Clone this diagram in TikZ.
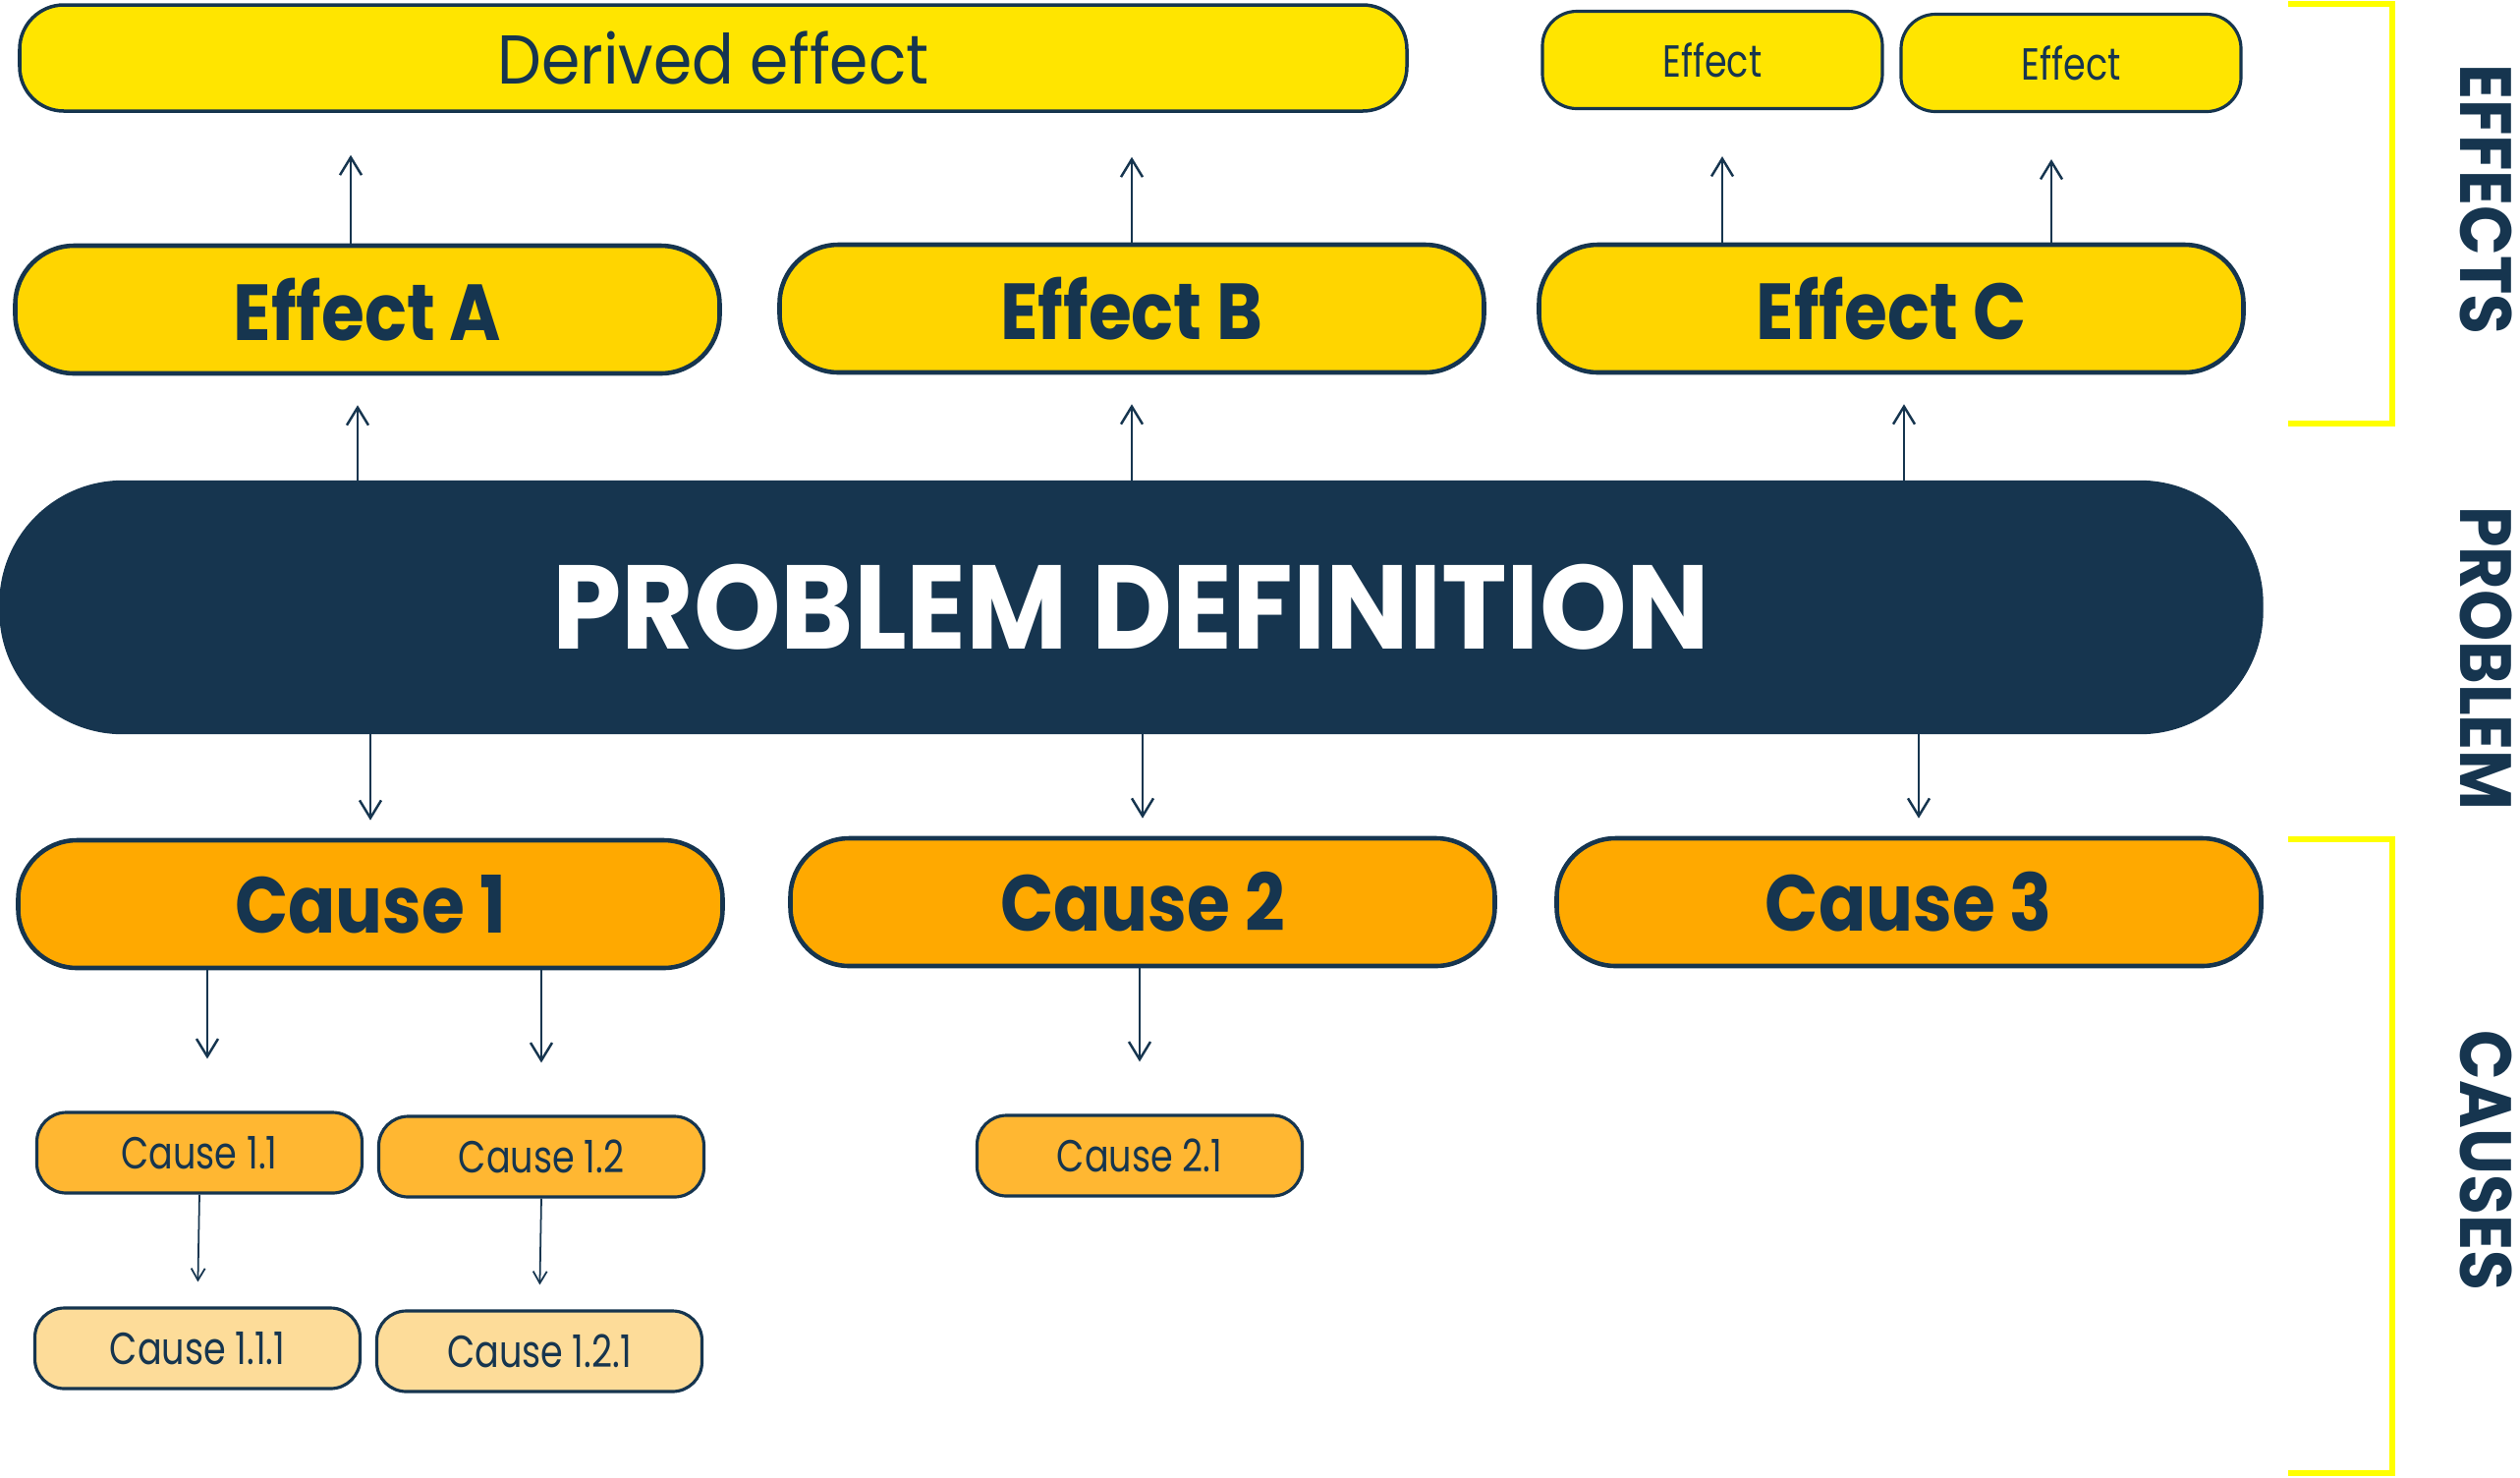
\documentclass[tikz,border=0pt]{standalone}
\usepackage{fontspec}
\setmainfont{Poppins}
\newfontfamily\bigfit{Poppins}[FakeStretch=0.88]
\newfontfamily\probfit{Poppins}[FakeStretch=0.93]
\newfontfamily\midfit{Poppins}[FakeStretch=0.9]
\newfontfamily\smallfit{Poppins}[FakeStretch=0.8]
\usetikzlibrary{arrows.meta}
\definecolor{navy}{HTML}{16354F}
\definecolor{yelA}{HTML}{FFE500}
\definecolor{yelB}{HTML}{FFD500}
\definecolor{orgA}{HTML}{FFA900}
\definecolor{orgB}{HTML}{FFB732}
\definecolor{orgC}{HTML}{FDDC99}
\definecolor{brk}{HTML}{FFFF00}
\begin{document}
\begin{tikzpicture}[
  box/.style={draw=navy, text=navy, inner sep=0pt, align=center},
  big/.style={box, line width=1.3pt, minimum width=7.17cm, minimum height=1.3cm, rounded corners=0.6cm, font=\bigfit\fontsize{23}{26}\selectfont\bfseries},
  small/.style={box, line width=0.9pt, minimum width=3.31cm, minimum height=0.82cm, rounded corners=0.3cm, font=\smallfit\fontsize{13}{16}\selectfont},
  link/.style={draw=navy, line width=0.7pt, -{Straight Barb[length=0.18cm, width=0.22cm]}},
  thin/.style={draw=navy, line width=0.5pt, -{Straight Barb[length=0.12cm, width=0.14cm]}},
  side/.style={text=navy, rotate=-90, font=\midfit\fontsize{21}{26}\selectfont\bfseries}
]
\useasboundingbox (0,0) rectangle (25.65,-15.03);

% effects
\node[box, fill=yelA, line width=1pt, minimum width=14.12cm, minimum height=1.08cm, rounded corners=0.45cm, font=\midfit\fontsize{20}{24}\selectfont] (d) at (7.26,-0.59) {Derived effect};
\node[small, fill=yelA, minimum width=3.46cm, minimum height=0.99cm, rounded corners=0.35cm] (e1) at (17.43,-0.61) {Effect};
\node[small, fill=yelA, minimum width=3.46cm, minimum height=0.99cm, rounded corners=0.35cm] (e2) at (21.08,-0.64) {Effect};
\node[big, fill=yelB] (A) at (3.74,-3.15) {Effect A};
\node[big, fill=yelB] (B) at (11.52,-3.14) {Effect B};
\node[big, fill=yelB] (C) at (19.25,-3.14) {Effect C};

% problem
\node[box, fill=navy, text=white, minimum width=23.03cm, minimum height=2.57cm, rounded corners=1.25cm, font=\probfit\fontsize{34.5}{40}\selectfont\bfseries] (p) at (11.515,-6.18) {PROBLEM DEFINITION};

% causes
\node[big, fill=orgA] (1) at (3.77,-9.20) {Cause 1};
\node[big, fill=orgA] (2) at (11.63,-9.18) {Cause 2};
\node[big, fill=orgA] (3) at (19.43,-9.18) {Cause 3};
\node[small, fill=orgB] (11) at (2.03,-11.73) {Cause 1.1};
\node[small, fill=orgB] (12) at (5.51,-11.77) {Cause 1.2};
\node[small, fill=orgB] (21) at (11.60,-11.76) {Cause 2.1};
\node[small, fill=orgC] (111) at (2.01,-13.72) {Cause 1.1.1};
\node[small, fill=orgC] (121) at (5.49,-13.75) {Cause 1.2.1};

\path[link, shorten >=0.43cm] ([xshift=-0.17cm]A.north) -- ([xshift=-0.17cm]A.north |- d.south);
\path[link, shorten >=0.45cm] (B.north) -- (B.north |- d.south);
\path[link, shorten >=0.47cm] ([xshift=0.1cm]e1.south |- C.north) -- ([xshift=0.1cm]e1.south);
\path[link, shorten >=0.47cm] ([xshift=-0.2cm]e2.south |- C.north) -- ([xshift=-0.2cm]e2.south);
\path[link, shorten >=0.3cm] ([xshift=-0.1cm]A.south |- p.north) -- ([xshift=-0.1cm]A.south);
\path[link, shorten >=0.3cm] (B.south |- p.north) -- (B.south);
\path[link, shorten >=0.3cm] ([xshift=0.13cm]C.south |- p.north) -- ([xshift=0.13cm]C.south);
\path[link, shorten >=0.18cm] (1.north |- p.south) -- (1.north);
\path[link, shorten >=0.18cm] (2.north |- p.south) -- (2.north);
\path[link, shorten >=0.18cm] ([xshift=0.1cm]3.north |- p.south) -- ([xshift=0.1cm]3.north);
\path[link, shorten >=0.53cm] ([xshift=0.08cm]11.north |- 1.south) -- ([xshift=0.08cm]11.north);
\path[link, shorten >=0.53cm] (12.north |- 1.south) -- (12.north);
\path[link, shorten >=0.53cm] (21.north |- 2.south) -- (21.north);
\path[thin, shorten >=0.25cm] (11.south) -- (111.north);
\path[thin, shorten >=0.25cm] (12.south) -- (121.north);

% brackets
\draw[brk, line width=1.5pt] (23.29,-0.04) -- (24.35,-0.04) -- (24.35,-4.31) -- (23.29,-4.31);
\draw[brk, line width=1.5pt] (23.29,-8.54) -- (24.35,-8.54) -- (24.35,-14.99) -- (23.29,-14.99);
\node[side] (ef) at (25.30,-2.03) {EFFECTS};
\node[side] (pr) at (25.30,-6.70) {PROBLEM};
\node[side] (ca) at (25.30,-11.81) {CAUSES};
\end{tikzpicture}
\end{document}
